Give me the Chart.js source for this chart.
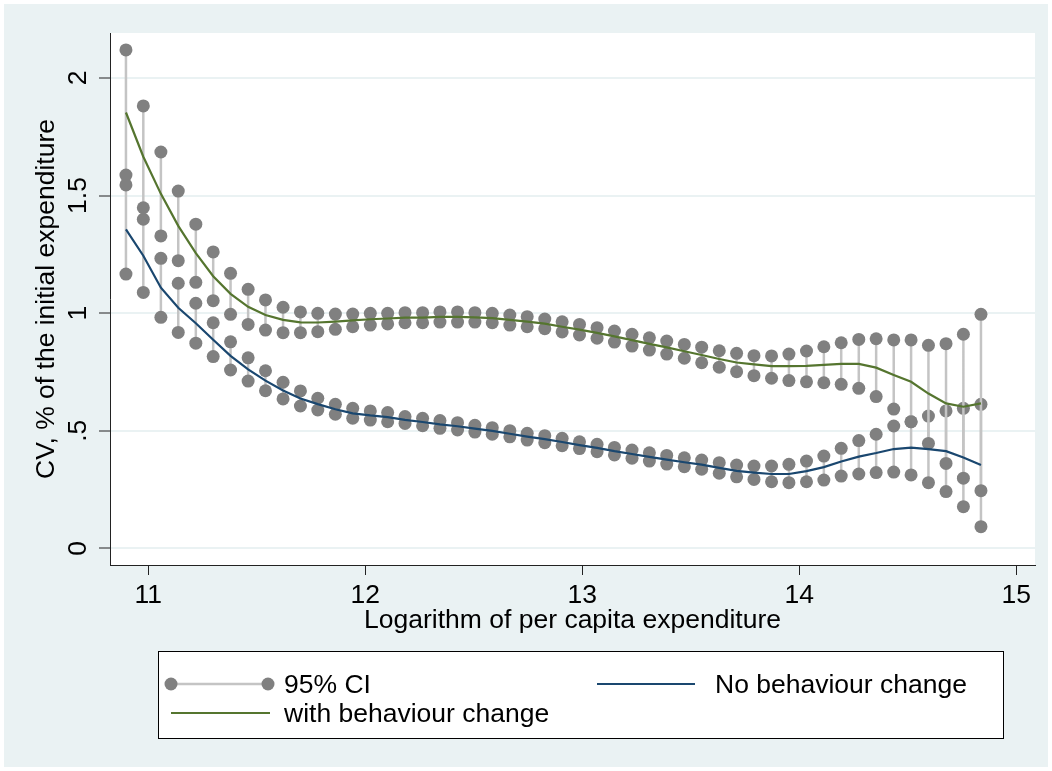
<!DOCTYPE html>
<html>
<head>
<meta charset="utf-8">
<script src="https://cdn.jsdelivr.net/npm/chart.js@4.4.1/dist/chart.umd.min.js"></script>
<style>
  html, body { margin: 0; padding: 0; background: #ffffff; }
  #wrap { width: 1052px; height: 771px; }
</style>
</head>
<body>
<div id="wrap"><canvas id="cvChart" width="1052" height="771"></canvas></div>
<script>
// ===== DATA =====
const xVals = [10.897, 10.977, 11.058, 11.138, 11.219, 11.299, 11.379, 11.460, 11.540, 11.621,
  11.701, 11.781, 11.862, 11.942, 12.023, 12.103, 12.183, 12.264, 12.344, 12.425,
  12.505, 12.585, 12.666, 12.746, 12.827, 12.907, 12.987, 13.068, 13.148, 13.229,
  13.309, 13.389, 13.470, 13.550, 13.631, 13.711, 13.791, 13.872, 13.952, 14.033,
  14.113, 14.193, 14.274, 14.354, 14.435, 14.515, 14.595, 14.676, 14.756, 14.837];

// 95% CI with behaviour change
const withHi = [2.119, 1.881, 1.685, 1.519, 1.378, 1.260, 1.169, 1.101, 1.056, 1.025,
  1.005, 0.999, 0.996, 0.996, 0.999, 0.999, 1.002, 1.002, 1.005, 1.005,
  1.002, 0.999, 0.992, 0.985, 0.975, 0.963, 0.952, 0.938, 0.924, 0.910,
  0.895, 0.881, 0.867, 0.855, 0.840, 0.829, 0.819, 0.818, 0.826, 0.839,
  0.857, 0.874, 0.888, 0.891, 0.886, 0.886, 0.863, 0.870, 0.910, 0.995];
const withLo = [1.587, 1.448, 1.328, 1.223, 1.131, 1.053, 0.995, 0.952, 0.928, 0.917,
  0.917, 0.921, 0.931, 0.942, 0.949, 0.954, 0.959, 0.959, 0.962, 0.962,
  0.962, 0.959, 0.949, 0.942, 0.934, 0.920, 0.907, 0.893, 0.877, 0.860,
  0.843, 0.826, 0.808, 0.789, 0.770, 0.751, 0.734, 0.723, 0.713, 0.708,
  0.704, 0.697, 0.680, 0.645, 0.592, 0.538, 0.446, 0.361, 0.298, 0.245];

// 95% CI no behaviour change
const noHi = [1.545, 1.399, 1.233, 1.127, 1.042, 0.959, 0.878, 0.810, 0.755, 0.706,
  0.669, 0.638, 0.612, 0.595, 0.584, 0.577, 0.560, 0.553, 0.543, 0.534,
  0.523, 0.513, 0.500, 0.489, 0.479, 0.468, 0.453, 0.442, 0.429, 0.418,
  0.406, 0.395, 0.385, 0.375, 0.364, 0.354, 0.350, 0.350, 0.357, 0.371,
  0.392, 0.425, 0.458, 0.485, 0.520, 0.538, 0.562, 0.584, 0.595, 0.612];
const noLo = [1.166, 1.088, 0.982, 0.918, 0.872, 0.815, 0.758, 0.711, 0.670, 0.635,
  0.605, 0.588, 0.570, 0.553, 0.545, 0.538, 0.531, 0.521, 0.510, 0.503,
  0.494, 0.485, 0.474, 0.460, 0.449, 0.436, 0.424, 0.411, 0.397, 0.383,
  0.371, 0.358, 0.347, 0.336, 0.319, 0.304, 0.293, 0.283, 0.279, 0.283,
  0.290, 0.307, 0.316, 0.322, 0.324, 0.312, 0.279, 0.241, 0.177, 0.092];

// estimates
const withLine = [1.853, 1.665, 1.507, 1.371, 1.255, 1.157, 1.082, 1.027, 0.992, 0.971,
  0.961, 0.960, 0.964, 0.969, 0.974, 0.977, 0.981, 0.981, 0.984, 0.984,
  0.982, 0.979, 0.971, 0.964, 0.955, 0.942, 0.930, 0.916, 0.901, 0.885,
  0.869, 0.854, 0.838, 0.822, 0.805, 0.790, 0.782, 0.775, 0.775, 0.776,
  0.780, 0.784, 0.784, 0.768, 0.737, 0.708, 0.658, 0.616, 0.602, 0.616];
const noLine = [1.356, 1.244, 1.108, 1.023, 0.957, 0.887, 0.818, 0.761, 0.713, 0.671,
  0.637, 0.613, 0.591, 0.574, 0.565, 0.558, 0.546, 0.537, 0.527, 0.519,
  0.509, 0.499, 0.487, 0.475, 0.464, 0.452, 0.439, 0.427, 0.413, 0.401,
  0.389, 0.377, 0.366, 0.356, 0.342, 0.329, 0.322, 0.316, 0.316, 0.328,
  0.345, 0.369, 0.390, 0.405, 0.422, 0.428, 0.422, 0.413, 0.386, 0.354];

const xTicks = [11, 12, 13, 14, 15];
const yTicks = [0, 0.5, 1, 1.5, 2];
const yTickLabels = ['0', '.5', '1', '1.5', '2'];

// ===== STYLE =====
const FONT = 'Liberation Sans';
const BG = '#eaf2f3';
const DOT = '#808080';
const CAP = '#c4c4c4';
const GREEN = '#55752f';
const NAVY = '#1a476f';
const AXIS = '#222222';

// CI as vertical segments: hi, lo, gap
function ciPoints(hi, lo) {
  const pts = [];
  xVals.forEach((x, i) => {
    pts.push({ x: x, y: hi[i] });
    pts.push({ x: x, y: lo[i] });
    pts.push({ x: x, y: null });
  });
  return pts;
}
function linePoints(vals) {
  return xVals.map((x, i) => ({ x: x, y: vals[i] }));
}

// ===== PLUGINS =====
// graph region (light blue-gray with thin white margin) + white plot region
const plotBg = {
  id: 'plotBg',
  beforeDraw(chart) {
    const { ctx, chartArea: a, width, height } = chart;
    ctx.save();
    ctx.fillStyle = '#ffffff';
    ctx.fillRect(0, 0, width, height);
    ctx.fillStyle = BG;
    ctx.fillRect(4, 4, width - 8, height - 8);
    ctx.fillStyle = '#ffffff';
    ctx.fillRect(a.left, a.top, a.right - a.left, a.bottom - a.top);
    ctx.restore();
  }
};

// Stata-like boxed legend under the plot
const boxLegend = {
  id: 'boxLegend',
  afterDraw(chart) {
    const ctx = chart.ctx;
    const ds = chart.data.datasets;
    ctx.save();
    ctx.fillStyle = '#ffffff';
    ctx.fillRect(158, 652, 845, 86);
    ctx.strokeStyle = '#000000';
    ctx.lineWidth = 1;
    ctx.strokeRect(158.5, 651.5, 845, 87);

    ctx.font = '26.5px "' + FONT + '"';
    ctx.fillStyle = '#000000';
    ctx.textBaseline = 'alphabetic';

    // row 1: CI
    const r1 = 684, r2 = 713;
    ctx.strokeStyle = CAP;
    ctx.lineWidth = 2.5;
    ctx.beginPath(); ctx.moveTo(171, r1); ctx.lineTo(268, r1); ctx.stroke();
    ctx.fillStyle = DOT;
    [171, 268].forEach(cx => { ctx.beginPath(); ctx.arc(cx, r1, 6.5, 0, Math.PI * 2); ctx.fill(); });
    ctx.fillStyle = '#000000';
    ctx.fillText(ds[0].label, 284, r1 + 9.3);

    // row 1: no behaviour change
    ctx.strokeStyle = NAVY;
    ctx.lineWidth = 2.2;
    ctx.beginPath(); ctx.moveTo(597, r1); ctx.lineTo(695, r1); ctx.stroke();
    ctx.fillText(ds[3].label, 715, r1 + 9.3);

    // row 2: with behaviour change
    ctx.strokeStyle = GREEN;
    ctx.beginPath(); ctx.moveTo(171, r2); ctx.lineTo(270, r2); ctx.stroke();
    ctx.fillText(ds[2].label, 284, r2 + 9.3);
    ctx.restore();
  }
};

// ===== CHART =====
const ctx = document.getElementById('cvChart');
const cvChart = new Chart(ctx, {
  type: 'scatter',
  data: {
    datasets: [
      {
        label: '95% CI',
        data: ciPoints(withHi, withLo),
        showLine: true, spanGaps: false,
        borderColor: CAP, borderWidth: 2.5,
        pointRadius: 6.5, pointBackgroundColor: DOT, pointBorderWidth: 0,
        order: 2
      },
      {
        label: '95% CI (no change)',
        data: ciPoints(noHi, noLo),
        showLine: true, spanGaps: false,
        borderColor: CAP, borderWidth: 2.5,
        pointRadius: 6.5, pointBackgroundColor: DOT, pointBorderWidth: 0,
        order: 2
      },
      {
        label: 'with behaviour change',
        data: linePoints(withLine),
        showLine: true, borderColor: GREEN, borderWidth: 2.2,
        pointRadius: 0, tension: 0, order: 1
      },
      {
        label: 'No behaviour change',
        data: linePoints(noLine),
        showLine: true, borderColor: NAVY, borderWidth: 2.2,
        pointRadius: 0, tension: 0, order: 0
      }
    ]
  },
  options: {
    responsive: false,
    animation: false,
    events: [],
    layout: { padding: { left: 0, top: 33, right: 17, bottom: 126 } },
    plugins: {
      legend: { display: false },
      tooltip: { enabled: false }
    },
    scales: {
      x: {
        type: 'linear',
        min: 10.8235, max: 15.086,
        afterBuildTicks: s => { s.ticks = xTicks.map(v => ({ value: v })); },
        afterFit: s => { s.height = 80; },
        ticks: {
          color: '#000', padding: 5,
          font: { family: FONT, size: 26.5 },
          callback: v => String(v),
          maxRotation: 0
        },
        grid: { drawOnChartArea: false, tickLength: 10, tickColor: AXIS, tickWidth: 1 },
        border: { color: AXIS, width: 1 },
        title: {
          display: true, text: 'Logarithm of per capita expenditure',
          color: '#000', font: { family: FONT, size: 26.5 },
          padding: { top: 0, bottom: 8 }
        }
      },
      y: {
        type: 'linear',
        min: -0.071, max: 2.191,
        afterBuildTicks: s => { s.ticks = yTicks.map(v => ({ value: v })); },
        afterFit: s => { s.width = 110; },
        ticks: {
          color: '#000', padding: 2,
          minRotation: 90, maxRotation: 90,
          crossAlign: 'center',
          font: { family: FONT, size: 26.5 },
          callback: v => yTickLabels[yTicks.indexOf(v)]
        },
        grid: { color: BG, lineWidth: 2, tickLength: 11, tickColor: AXIS, tickWidth: 1 },
        border: { color: AXIS, width: 1 },
        title: {
          display: true, text: 'CV, % of the initial expenditure',
          color: '#000', font: { family: FONT, size: 26.5 },
          padding: { top: 31, bottom: 0 }
        }
      }
    }
  },
  plugins: [plotBg, boxLegend]
});
</script>
</body>
</html>
